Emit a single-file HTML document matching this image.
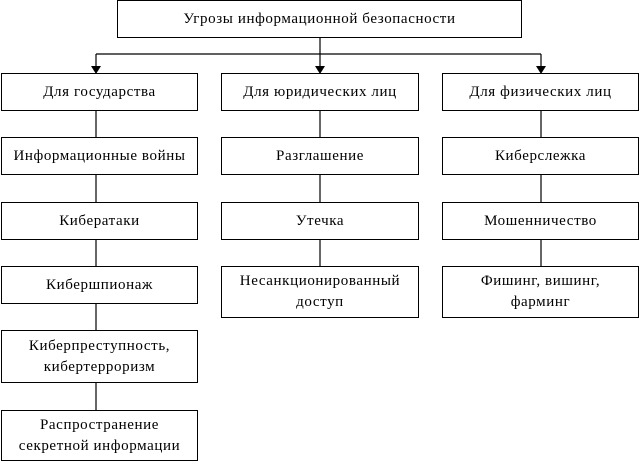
<!DOCTYPE html><html><head><meta charset="utf-8"><style>
body{margin:0;width:642px;height:462px;background:#fff;position:relative;overflow:hidden;font-family:"Liberation Serif",serif;font-size:15px;letter-spacing:0.6px;color:#000}
.b{position:absolute;border:1px solid #000;box-sizing:border-box;display:flex;align-items:center;justify-content:center;text-align:center;line-height:21px;background:#fff}
svg{position:absolute;left:0;top:0}
</style></head><body>
<svg width="642" height="462"><g stroke="#000" stroke-width="1.2" fill="none">
<line x1="320" y1="37" x2="320" y2="54"/>
<line x1="96" y1="54" x2="541" y2="54"/>
<line x1="96" y1="54" x2="96" y2="68"/><line x1="320" y1="54" x2="320" y2="68"/><line x1="541" y1="54" x2="541" y2="68"/>
<line x1="96" y1="110" x2="96" y2="410"/>
<line x1="320" y1="110" x2="320" y2="266"/>
<line x1="541" y1="110" x2="541" y2="266"/>
</g><g fill="#000">
<polygon points="91,66 101,66 96,74"/><polygon points="315,66 325,66 320,74"/><polygon points="536,66 546,66 541,74"/>
</g></svg>
<div class="b" style="left:117px;top:0;width:405px;height:38px">Угрозы информационной безопасности</div>
<div class="b" style="left:1px;top:73px;width:197px;height:38px">Для государства</div>
<div class="b" style="left:221px;top:73px;width:198px;height:38px">Для юридических лиц</div>
<div class="b" style="left:442px;top:73px;width:197px;height:38px">Для физических лиц</div>
<div class="b" style="left:1px;top:137px;width:197px;height:38px">Информационные войны</div>
<div class="b" style="left:221px;top:137px;width:198px;height:38px">Разглашение</div>
<div class="b" style="left:442px;top:137px;width:197px;height:38px">Киберслежка</div>
<div class="b" style="left:1px;top:202px;width:197px;height:38px">Кибератаки</div>
<div class="b" style="left:221px;top:202px;width:198px;height:38px">Утечка</div>
<div class="b" style="left:442px;top:202px;width:197px;height:38px">Мошенничество</div>
<div class="b" style="left:1px;top:266px;width:197px;height:38px">Кибершпионаж</div>
<div class="b" style="left:221px;top:266px;width:198px;height:52px">Несанкционированный<br>доступ</div>
<div class="b" style="left:442px;top:266px;width:197px;height:52px">Фишинг, вишинг,<br>фарминг</div>
<div class="b" style="left:1px;top:330px;width:197px;height:53px">Киберпреступность,<br>кибертерроризм</div>
<div class="b" style="left:1px;top:410px;width:197px;height:51px">Распространение<br>секретной информации</div>
</body></html>
